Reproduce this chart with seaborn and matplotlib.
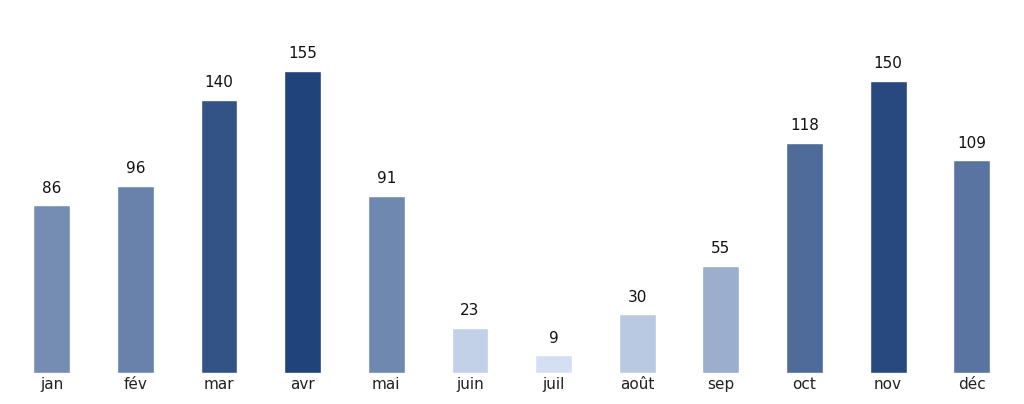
import matplotlib
matplotlib.use("Agg")
import matplotlib.pyplot as plt
import seaborn as sns
import numpy as np
from matplotlib.colors import LinearSegmentedColormap

months = ["jan", "fév", "mar", "avr", "mai", "juin", "juil", "août", "sep", "oct", "nov", "déc"]
values = [86, 96, 140, 155, 91, 23, 9, 30, 55, 118, 150, 109]

sns.set_style("white")
fig = plt.figure(figsize=(10.24, 4.04), dpi=100)
ax = fig.add_axes([0.0098, 0.077, 0.98, 0.796])

cmap = LinearSegmentedColormap.from_list("b", ["#d3e2fb", "#12408a"])
vmin, vmax = 5, 155
colors = [cmap((v - vmin) / (vmax - vmin)) for v in values]

sns.barplot(x=months, y=values, hue=months, palette=colors, legend=False, width=0.44, ax=ax)
for i, v in enumerate(values):
    ax.text(i, v + 5, str(v), ha="center", va="bottom", fontsize=11, color="#111111")

ax.set_ylim(0, 165)
ax.set_xlim(-0.5, 11.5)
ax.set_yticks([])
ax.set_ylabel("")
ax.tick_params(axis="x", length=0, labelsize=11, pad=3, colors="#222222")
sns.despine(ax=ax, left=True, bottom=True)
fig.savefig("out.png", dpi=100)
